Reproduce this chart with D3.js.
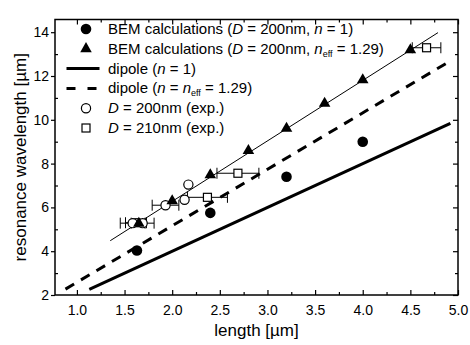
<!DOCTYPE html>
<html><head><meta charset="utf-8">
<script src="https://cdn.jsdelivr.net/npm/d3@7"></script>
<style>
html,body{margin:0;padding:0;background:#fff;}
svg{display:block;font-family:"Liberation Sans",Arial,sans-serif;}
</style></head>
<body><svg id="c" width="470" height="345"></svg>
<script>
// ---- data ----
const bemN1X = [1.63, 2.4, 3.2, 4.0];
const bemN1Y = [4.03, 5.75, 7.4, 9.0];
const bemNeffX = [1.65, 2.0, 2.4, 2.8, 3.2, 3.6, 4.0, 4.5];
const bemNeffY = [5.27, 6.3, 7.48, 8.59, 9.61, 10.75, 11.82, 13.19];
const exp200X = [1.585, 1.69, 1.93, 2.13, 2.17];
const exp200Y = [5.28, 5.28, 6.1, 6.35, 7.04];
const exp200Err = [0.13, 0.12, 0.14, 0, 0];
const exp210X = [1.62, 2.37, 2.69, 4.67];
const exp210Y = [5.3, 6.46, 7.56, 13.29];
const exp210Err = [0.11, 0.21, 0.22, 0.15];
const fitX = [1.35, 4.79];
const fitY = [4.48, 13.98];
const dipole1X = [1.13, 4.92];
const dipole1Y = [2.26, 9.84];
const dipoleEffX = [0.88, 4.92];
const dipoleEffY = [2.27, 12.69];
const xTicks = [1.0, 1.5, 2.0, 2.5, 3.0, 3.5, 4.0, 4.5, 5.0];
const xMinor = [1.25, 1.75, 2.25, 2.75, 3.25, 3.75, 4.25, 4.75];
const yTicks = [2, 4, 6, 8, 10, 12, 14];
const yMinor = [3, 5, 7, 9, 11, 13];
const xLabel = "length [µm]";
const yLabel = "resonance wavelength [µm]";

// ---- chart ----
const svg = d3.select("#c");
const L = 55, R = 458, T = 19.5, B = 295;
const x = d3.scaleLinear().domain([0.77, 5.0]).range([L, R]);
const y = d3.scaleLinear().domain([2, 14.58]).range([B, T]);

function styleAxis(g){
  g.select(".domain").remove();
  g.selectAll(".tick line").attr("stroke","#000").attr("stroke-width",1.2);
  g.selectAll(".tick text").attr("font-size",14).attr("fill","#000")
    .attr("font-family",'"Liberation Sans",Arial,sans-serif');
}
// bottom
svg.append("g").attr("transform",`translate(0,${B})`)
  .call(d3.axisBottom(x).tickValues(xTicks).tickFormat(d3.format(".1f")).tickSizeInner(-5).tickSizeOuter(0).tickPadding(10))
  .call(styleAxis);
svg.append("g").attr("transform",`translate(0,${B})`)
  .call(d3.axisBottom(x).tickValues(xMinor).tickFormat("").tickSizeInner(-3).tickSizeOuter(0))
  .call(styleAxis);
// top
svg.append("g").attr("transform",`translate(0,${T})`)
  .call(d3.axisTop(x).tickValues(xTicks).tickFormat("").tickSizeInner(-5).tickSizeOuter(0))
  .call(styleAxis);
svg.append("g").attr("transform",`translate(0,${T})`)
  .call(d3.axisTop(x).tickValues(xMinor).tickFormat("").tickSizeInner(-3).tickSizeOuter(0))
  .call(styleAxis);
// left
svg.append("g").attr("transform",`translate(${L},0)`)
  .call(d3.axisLeft(y).tickValues(yTicks).tickFormat(d3.format("d")).tickSizeInner(4).tickSizeOuter(0).tickPadding(2))
  .call(styleAxis);
svg.append("g").attr("transform",`translate(${L},0)`)
  .call(d3.axisLeft(y).tickValues(yMinor).tickFormat("").tickSizeInner(-3).tickSizeOuter(0))
  .call(styleAxis);
// right
svg.append("g").attr("transform",`translate(${R},0)`)
  .call(d3.axisRight(y).tickValues(yTicks).tickFormat("").tickSizeInner(-5).tickSizeOuter(0))
  .call(styleAxis);
svg.append("g").attr("transform",`translate(${R},0)`)
  .call(d3.axisRight(y).tickValues(yMinor).tickFormat("").tickSizeInner(-3).tickSizeOuter(0))
  .call(styleAxis);

svg.append("rect").attr("x",L).attr("y",T).attr("width",R-L).attr("height",B-T)
  .attr("fill","none").attr("stroke","#000").attr("stroke-width",1.5);

// axis labels
svg.append("text").attr("x",(L+R)/2).attr("y",336).attr("text-anchor","middle")
  .attr("font-size",17).text(xLabel);
svg.append("text").attr("transform",`translate(26,${(T+B)/2}) rotate(-90)`).attr("text-anchor","middle")
  .attr("font-size",17).text(yLabel);

// lines
const line = d3.line().x(d=>x(d[0])).y(d=>y(d[1]));
svg.append("path").datum(d3.zip(dipole1X,dipole1Y)).attr("d",line)
  .attr("stroke","#000").attr("stroke-width",3).attr("fill","none");
svg.append("path").datum(d3.zip(dipoleEffX,dipoleEffY)).attr("d",line)
  .attr("stroke","#000").attr("stroke-width",3).attr("fill","none").attr("stroke-dasharray","10,8");
svg.append("path").datum(d3.zip(fitX,fitY)).attr("d",line)
  .attr("stroke","#000").attr("stroke-width",1).attr("fill","none");

// error bars
function errBars(xs, ys, es){
  const g = svg.append("g").attr("stroke","#000").attr("stroke-width",1);
  xs.forEach((xv,i)=>{
    const e = es[i]; if(!e) return;
    const yy = y(ys[i]);
    g.append("line").attr("x1",x(xv-e)).attr("x2",x(xv+e)).attr("y1",yy).attr("y2",yy);
    g.append("line").attr("x1",x(xv-e)).attr("x2",x(xv-e)).attr("y1",yy-5.5).attr("y2",yy+5.5);
    g.append("line").attr("x1",x(xv+e)).attr("x2",x(xv+e)).attr("y1",yy-5.5).attr("y2",yy+5.5);
  });
}
errBars(exp210X, exp210Y, exp210Err);
errBars(exp200X, exp200Y, exp200Err);

// markers
const tri = d3.symbol().type(d3.symbolTriangle).size(58);
svg.append("g").selectAll("rect").data(d3.zip(exp210X,exp210Y)).join("rect")
  .attr("x",d=>x(d[0])-4).attr("y",d=>y(d[1])-4).attr("width",8).attr("height",8)
  .attr("fill","#fff").attr("stroke","#000").attr("stroke-width",1.2);
svg.append("g").selectAll("circle").data(d3.zip(exp200X,exp200Y)).join("circle")
  .attr("cx",d=>x(d[0])).attr("cy",d=>y(d[1])).attr("r",4.6)
  .attr("fill","#fff").attr("stroke","#000").attr("stroke-width",1.2);
svg.append("g").selectAll("circle").data(d3.zip(bemN1X,bemN1Y)).join("circle")
  .attr("cx",d=>x(d[0])).attr("cy",d=>y(d[1])).attr("r",5.3).attr("fill","#000");
svg.append("g").selectAll("path").data(d3.zip(bemNeffX,bemNeffY)).join("path")
  .attr("transform",d=>`translate(${x(d[0])},${y(d[1])})`).attr("d",tri).attr("fill","#000");

// legend
const lg = svg.append("g");
const rowY = [29, 48.8, 68.6, 88.4, 108.2, 128];
const symX = 86, txtX = 108;
lg.append("circle").attr("cx",symX).attr("cy",rowY[0]).attr("r",5.3).attr("fill","#000");
lg.append("path").attr("transform",`translate(${symX},${rowY[1]})`).attr("d",tri).attr("fill","#000");
lg.append("line").attr("x1",66.5).attr("x2",99.5).attr("y1",rowY[2]).attr("y2",rowY[2]).attr("stroke","#000").attr("stroke-width",3);
lg.append("line").attr("x1",66.5).attr("x2",99.5).attr("y1",rowY[3]).attr("y2",rowY[3]).attr("stroke","#000").attr("stroke-width",3).attr("stroke-dasharray","9,12");
lg.append("circle").attr("cx",symX).attr("cy",rowY[4]).attr("r",4.6).attr("fill","#fff").attr("stroke","#000").attr("stroke-width",1.2);
lg.append("rect").attr("x",symX-4).attr("y",rowY[5]-4).attr("width",8).attr("height",8).attr("fill","#fff").attr("stroke","#000").attr("stroke-width",1.2);

const legendRows = [
  [["BEM calculations (",""],["D","i"],[" = 200nm, ",""],["n","i"],[" = 1)",""]],
  [["BEM calculations (",""],["D","i"],[" = 200nm, ",""],["n","i"],["eff","s"],[" = 1.29)",""]],
  [["dipole (",""],["n","i"],[" = 1)",""]],
  [["dipole (",""],["n","i"],[" = ",""],["n","i"],["eff","s"],[" = 1.29)",""]],
  [["D","i"],[" = 200nm (exp.)",""]],
  [["D","i"],[" = 210nm (exp.)",""]]
];
legendRows.forEach((parts,i)=>{
  const t = lg.append("text").attr("x",txtX).attr("y",rowY[i]+5).attr("font-size",15).attr("fill","#000");
  let sub = false;
  parts.forEach(([s,k])=>{
    const ts = t.append("tspan").text(s);
    if(k==="i") ts.attr("font-style","italic");
    if(k==="s"){ ts.attr("font-size",9).attr("dy",3); sub = true; }
    else if(sub){ ts.attr("dy",-3); sub = false; }
  });
});
</script></body></html>
